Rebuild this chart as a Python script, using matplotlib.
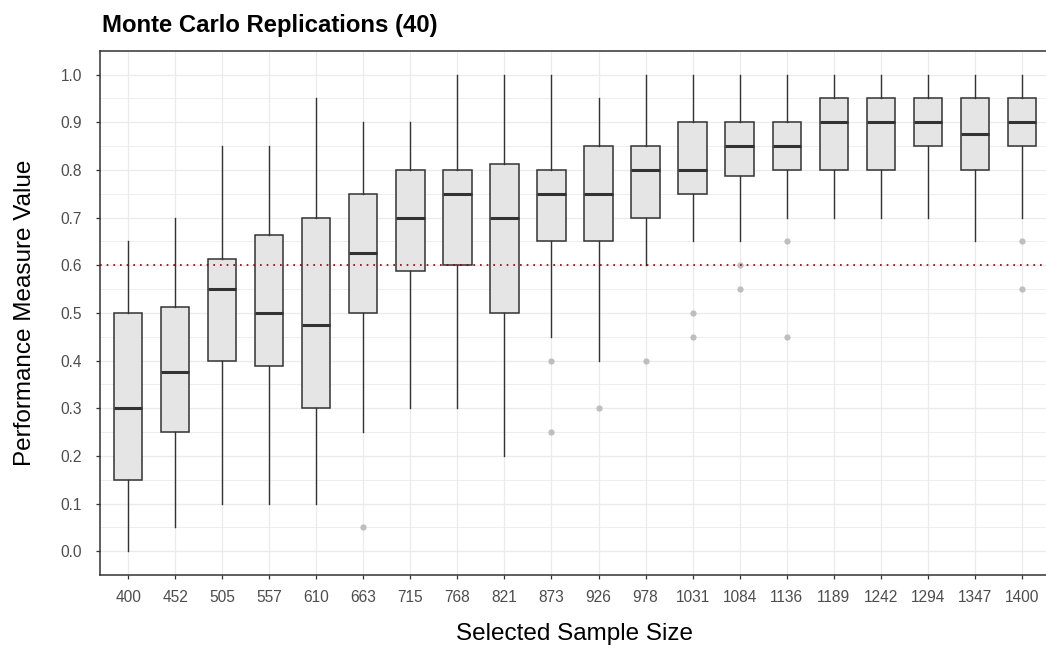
import matplotlib
matplotlib.use("Agg")
import matplotlib.pyplot as plt
import numpy as np

# ── Data ──────────────────────────────────────────────────────────────────────
sample_sizes = ["400", "452", "505", "557", "610", "663", "715", "768", "821", "873",
                "926", "978", "1031", "1084", "1136", "1189", "1242", "1294", "1347", "1400"]
whisker_low  = [0.00, 0.05, 0.10, 0.10, 0.10, 0.25, 0.30, 0.30, 0.20, 0.45,
                0.40, 0.60, 0.65, 0.65, 0.70, 0.70, 0.70, 0.70, 0.65, 0.70]
q1           = [0.15, 0.25, 0.40, 0.3875, 0.30, 0.50, 0.5875, 0.60, 0.50, 0.65,
                0.65, 0.70, 0.75, 0.7875, 0.80, 0.80, 0.80, 0.85, 0.80, 0.85]
medians      = [0.30, 0.375, 0.55, 0.50, 0.475, 0.625, 0.70, 0.75, 0.70, 0.75,
                0.75, 0.80, 0.80, 0.85, 0.85, 0.90, 0.90, 0.90, 0.875, 0.90]
q3           = [0.50, 0.5125, 0.6125, 0.6625, 0.70, 0.75, 0.80, 0.80, 0.8125, 0.80,
                0.85, 0.85, 0.90, 0.90, 0.90, 0.95, 0.95, 0.95, 0.95, 0.95]
whisker_high = [0.65, 0.70, 0.85, 0.85, 0.95, 0.90, 0.90, 1.00, 1.00, 1.00,
                0.95, 1.00, 1.00, 1.00, 1.00, 1.00, 1.00, 1.00, 1.00, 1.00]
outliers     = [[], [], [], [], [], [0.05], [], [], [], [0.40, 0.25],
                [0.30], [0.40], [0.50, 0.45], [0.60, 0.55], [0.65, 0.45], [], [], [], [], [0.65, 0.55]]
threshold = 0.6

FONT = ["Liberation Sans", "DejaVu Sans"]
W, H = 1046, 648

# ── Figure ────────────────────────────────────────────────────────────────────
fig = plt.figure(figsize=(W / 100, H / 100), dpi=100)
# panel runs slightly past the right edge of the canvas, as in the reference
ax = fig.add_axes([100 / W, (H - 575) / H, 950 / W, (575 - 50.7) / H])

stats = []
for i in range(len(sample_sizes)):
    stats.append({
        "whislo": whisker_low[i], "q1": q1[i], "med": medians[i],
        "q3": q3[i], "whishi": whisker_high[i], "fliers": outliers[i],
    })

positions = np.arange(1, len(sample_sizes) + 1)
ax.bxp(
    stats, positions=positions, widths=0.6, patch_artist=True, showcaps=False,
    boxprops=dict(facecolor="#E5E5E5", edgecolor="#333333", linewidth=1.1),
    whiskerprops=dict(color="#333333", linewidth=1.0),
    medianprops=dict(color="#333333", linewidth=2.2),
    flierprops=dict(marker="o", markersize=4.5, markerfacecolor="#BEBEBE",
                    markeredgecolor="none"),
    zorder=3,
)

# reference threshold
ax.axhline(threshold, color="#8B0000", linestyle=(0, (1, 3)), linewidth=1.2, zorder=4)

ax.set_xlim(0.4, len(sample_sizes) + 0.6)
ax.set_ylim(-0.05, 1.05)
ax.set_xticks(positions)
ax.set_xticklabels(sample_sizes)
yt = np.arange(0, 1.01, 0.1)
ax.set_yticks(yt)
ax.set_yticklabels([f"{v:.1f}" for v in yt])
ax.set_yticks(np.arange(0.05, 1.0, 0.1), minor=True)

ax.grid(True, which="major", color="#EBEBEB", linewidth=0.9, zorder=0)
ax.grid(True, which="minor", axis="y", color="#EBEBEB", linewidth=0.6, zorder=0)
ax.set_axisbelow(True)

ax.tick_params(axis="both", which="major", length=3, width=0.9, color="#333333",
               labelcolor="#4D4D4D", labelsize=11.2)
ax.tick_params(axis="x", pad=8)
ax.tick_params(axis="y", pad=10)
ax.tick_params(which="minor", length=0)
for sp in ax.spines.values():
    sp.set_color("#333333")
    sp.set_linewidth(1.1)

ax.set_xlabel("Selected Sample Size", fontsize=17.5, va="top")
ax.xaxis.set_label_coords(0.5, (575 - 623) / (575 - 50.7))
fig.text(25 / W, 1 - 313 / H, "Performance Measure Value", fontsize=17.5,
         rotation=90, ha="center", va="center")
fig.text(102 / W, 1 - 32 / H, "Monte Carlo Replications (40)", fontsize=17.2,
         fontweight="bold", ha="left", va="baseline")

for t in fig.findobj(matplotlib.text.Text):
    t.set_fontfamily(FONT)

fig.savefig("out.png", dpi=100)
